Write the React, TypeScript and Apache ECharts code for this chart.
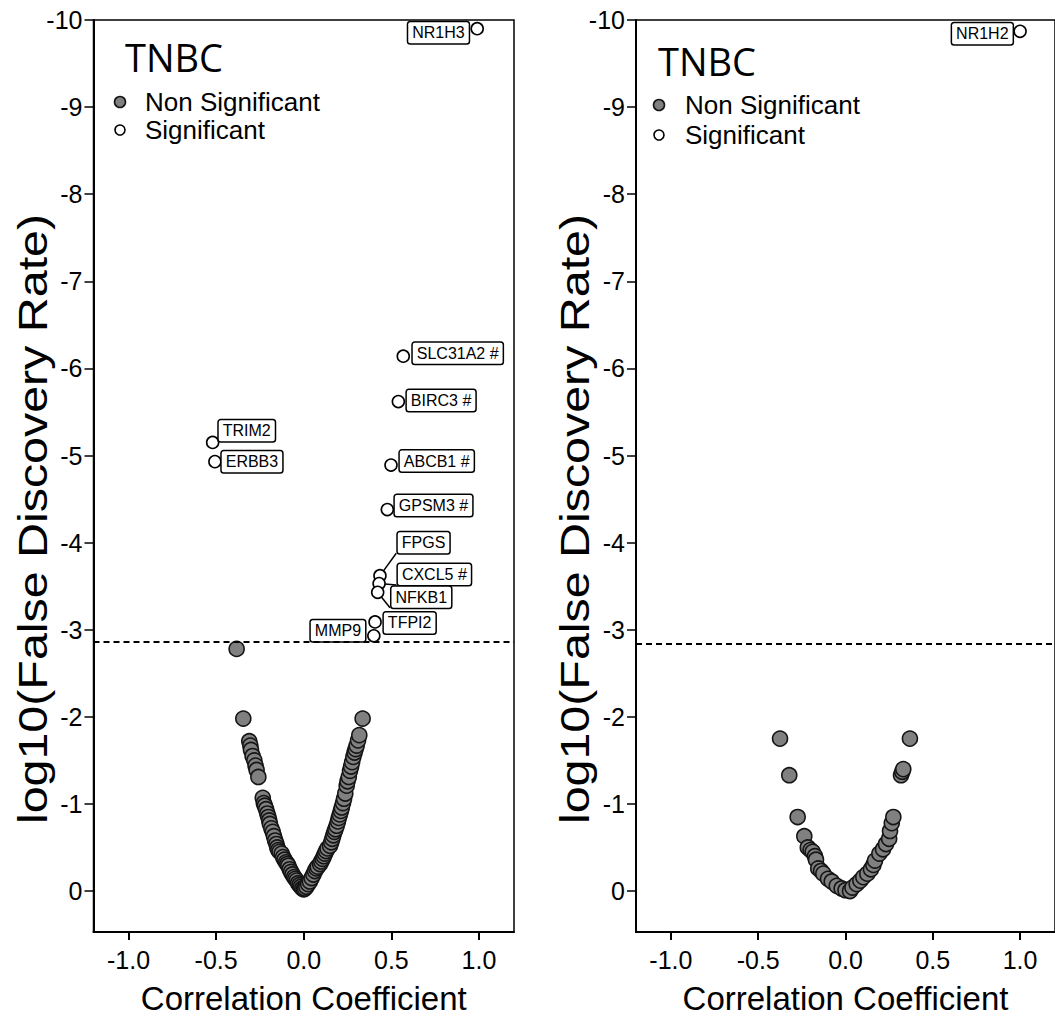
import React, { useEffect, useRef } from "react";
import * as echarts from "echarts";

// ---------------- data ----------------
const xTicks = [-1.0, -0.5, 0.0, 0.5, 1.0];
const yTicks = [-10, -9, -8, -7, -6, -5, -4, -3, -2, -1, 0];

const panelTitle = "TNBC";
const legendNames = ["Non Significant", "Significant"];
const xTitle = "Correlation Coefficient";
const yTitle = "log10(False Discovery Rate)";

const leftThreshold = -2.86;
const rightThreshold = -2.84;

const leftNonSig: [number, number][] = [
  [-0.383, -2.78], [-0.345, -1.98], [-0.311, -1.72], [-0.305, -1.67], [-0.301, -1.62],
  [-0.292, -1.55], [-0.282, -1.5], [-0.275, -1.44], [-0.269, -1.39], [-0.259, -1.31],
  [-0.234, -1.07], [-0.228, -1.01], [-0.222, -0.98], [-0.215, -0.94], [-0.208, -0.89],
  [-0.202, -0.85], [-0.197, -0.81], [-0.193, -0.77], [-0.185, -0.72], [-0.177, -0.68],
  [-0.17, -0.63], [-0.163, -0.58], [-0.156, -0.54], [-0.151, -0.5], [-0.145, -0.47],
  [-0.138, -0.45], [-0.126, -0.43], [-0.118, -0.39], [-0.11, -0.36], [-0.101, -0.33],
  [-0.094, -0.31], [-0.088, -0.29], [-0.08, -0.25], [-0.072, -0.22], [-0.064, -0.19],
  [-0.055, -0.16], [-0.048, -0.14], [-0.04, -0.12], [-0.032, -0.09], [-0.024, -0.07],
  [-0.016, -0.05], [-0.008, -0.03], [0.0, -0.02], [0.007, -0.03], [0.015, -0.05],
  [0.025, -0.08], [0.035, -0.11], [0.045, -0.15], [0.055, -0.19], [0.064, -0.23],
  [0.072, -0.26], [0.08, -0.28], [0.093, -0.31], [0.1, -0.34], [0.108, -0.37],
  [0.115, -0.4], [0.121, -0.43], [0.128, -0.46], [0.136, -0.49], [0.15, -0.52],
  [0.157, -0.56], [0.163, -0.6], [0.169, -0.64], [0.175, -0.68], [0.181, -0.71],
  [0.188, -0.75], [0.195, -0.8], [0.2, -0.84], [0.206, -0.88], [0.212, -0.92],
  [0.217, -0.96], [0.224, -1.01], [0.23, -1.06], [0.237, -1.12], [0.245, -1.21],
  [0.25, -1.26], [0.257, -1.31], [0.264, -1.38], [0.27, -1.43], [0.276, -1.48],
  [0.283, -1.54], [0.29, -1.59], [0.296, -1.63], [0.302, -1.67], [0.31, -1.73],
  [0.317, -1.79], [0.336, -1.98],
];

const leftSigGenes = [
  "NR1H3", "SLC31A2 #", "BIRC3 #", "TRIM2", "ERBB3", "ABCB1 #", "GPSM3 #",
  "FPGS", "CXCL5 #", "NFKB1", "TFPI2", "MMP9",
];
const leftSigX = [0.99, 0.568, 0.54, -0.52, -0.507, 0.498, 0.477, 0.435, 0.43, 0.422, 0.407, 0.4];
const leftSigY = [-9.9, -6.14, -5.62, -5.15, -4.93, -4.89, -4.38, -3.62, -3.53, -3.43, -3.09, -2.93];

const rightNonSig: [number, number][] = [
  [-0.375, -1.75], [-0.322, -1.33], [-0.274, -0.85], [-0.236, -0.63], [-0.216, -0.5],
  [-0.2, -0.47], [-0.188, -0.45], [-0.175, -0.4], [-0.169, -0.36], [-0.156, -0.26],
  [-0.14, -0.23], [-0.127, -0.2], [-0.1, -0.14], [-0.079, -0.11], [-0.05, -0.06],
  [-0.022, -0.03], [0.0, -0.01], [0.026, 0.0], [0.04, -0.04], [0.064, -0.08],
  [0.085, -0.12], [0.102, -0.16], [0.125, -0.2], [0.146, -0.25], [0.16, -0.3],
  [0.169, -0.35], [0.194, -0.43], [0.215, -0.48], [0.232, -0.54], [0.25, -0.6],
  [0.255, -0.69], [0.265, -0.78], [0.274, -0.85], [0.318, -1.33], [0.325, -1.37],
  [0.331, -1.4], [0.369, -1.75],
];

const rightSigGenes = ["NR1H2"];
const rightSigX = [1.0];
const rightSigY = [-9.87];

// ---------------- layout / style ----------------
const FONT = "'Liberation Sans', Arial, Helvetica, sans-serif";
const TITLE_FONT = "'Open Sans', 'Noto Sans', sans-serif";

type Place = { side: "left" | "right"; dx: number; dy: number; line?: boolean };
const labelPlace: Record<string, Place> = {
  "NR1H3": { side: "left", dx: -1.7, dy: 4 },
  "SLC31A2 #": { side: "right", dx: 2.7, dy: -3 },
  "BIRC3 #": { side: "right", dx: 1.7, dy: -1 },
  "TRIM2": { side: "right", dx: -0.7, dy: -11.7 },
  "ERBB3": { side: "right", dx: 0, dy: 0 },
  "ABCB1 #": { side: "right", dx: 2, dy: -4 },
  "GPSM3 #": { side: "right", dx: 0.7, dy: -4 },
  "FPGS": { side: "right", dx: 11, dy: -33, line: true },
  "CXCL5 #": { side: "right", dx: 12, dy: -9, line: true },
  "NFKB1": { side: "right", dx: 7, dy: 5, line: true },
  "TFPI2": { side: "right", dx: 2, dy: 1 },
  "MMP9": { side: "left", dx: -2, dy: -5 },
  "NR1H2": { side: "left", dx: -0.7, dy: 2.5 },
};

const grids = [
  { left: 93.5, top: 20, width: 420.5, height: 912 },
  { left: 636, top: 20, width: 419, height: 912 },
];

function makeXAxis(gridIndex: number) {
  return {
    type: "value",
    gridIndex,
    min: -1.2,
    max: 1.2,
    axisLine: { show: true, onZero: false, lineStyle: { color: "#000", width: 2 } },
    axisTick: { show: true, inside: false, length: 8, customValues: xTicks, lineStyle: { color: "#000", width: 2 } },
    axisLabel: {
      customValues: xTicks,
      formatter: (v: number) => v.toFixed(1),
      fontSize: 25,
      color: "#000",
      fontFamily: FONT,
      margin: 15,
    },
    splitLine: { show: false },
    name: xTitle,
    nameLocation: "middle",
    nameGap: 50,
    nameTextStyle: { fontSize: 33, color: "#000", fontFamily: FONT },
  };
}

function makeYAxis(gridIndex: number) {
  return {
    type: "value",
    gridIndex,
    inverse: true,
    min: -10,
    max: 0.47,
    axisLine: { show: true, onZero: false, lineStyle: { color: "#000", width: 2 } },
    axisTick: { show: true, inside: false, length: 9, customValues: yTicks, lineStyle: { color: "#000", width: 1.5 } },
    axisLabel: {
      customValues: yTicks,
      formatter: (v: number) => String(v),
      fontSize: 25,
      color: "#000",
      fontFamily: FONT,
      margin: 11,
    },
    splitLine: { show: false },
  };
}

function sigData(genes: string[], xs: number[], ys: number[]) {
  return genes.map((g, i) => {
    const p = labelPlace[g];
    const item: any = {
      name: g,
      value: [xs[i], ys[i]],
      label: {
        show: true,
        position: p.side,
        distance: 0,
        offset: [p.dx, p.dy],
        formatter: "{b}",
      },
    };
    if (p.line) {
      item.labelLine = { show: true, lineStyle: { color: "#000", width: 1.5 } };
    }
    return item;
  });
}

const sigLabelStyle = {
  show: true,
  color: "#000",
  fontSize: 16,
  fontFamily: FONT,
  lineHeight: 17,
  backgroundColor: "#fff",
  borderColor: "#000",
  borderWidth: 1.5,
  borderRadius: 2,
  padding: [2, 4, 2, 4],
};

function nonSigSeries(idx: number, data: [number, number][]) {
  return {
    type: "scatter",
    xAxisIndex: idx,
    yAxisIndex: idx,
    data,
    symbolSize: 15,
    itemStyle: { color: "#808080", borderColor: "#151515", borderWidth: 1.6, opacity: 1 },
    z: 2,
    silent: true,
  };
}

function sigSeries(idx: number, genes: string[], xs: number[], ys: number[], thr: number) {
  return {
    type: "scatter",
    xAxisIndex: idx,
    yAxisIndex: idx,
    data: sigData(genes, xs, ys),
    symbolSize: 12,
    itemStyle: { color: "#fff", borderColor: "#000", borderWidth: 1.6, opacity: 1 },
    label: sigLabelStyle,
    z: 3,
    silent: true,
    markLine: {
      silent: true,
      symbol: "none",
      label: { show: false },
      lineStyle: { type: [6, 4], color: "#000", width: 2 },
      data: [{ yAxis: thr }],
    },
  };
}

function legendGraphics(titleX: number, titleY: number, mx: number, ty: number, my1: number, my2: number) {
  return [
    {
      type: "text",
      x: titleX,
      y: titleY,
      style: {
        text: panelTitle,
        fontSize: 38,
        fontFamily: TITLE_FONT,
        fill: "#000",
        align: "left",
        textAlign: "left",
        verticalAlign: "middle",
        textVerticalAlign: "middle",
      },
    },
    {
      type: "circle",
      shape: { cx: mx, cy: my1, r: 5.5 },
      style: { fill: "#808080", stroke: "#151515", lineWidth: 1.6 },
    },
    {
      type: "circle",
      shape: { cx: mx, cy: my2, r: 5 },
      style: { fill: "#fff", stroke: "#000", lineWidth: 1.6 },
    },
    {
      type: "text",
      x: ty,
      y: my1,
      style: {
        text: legendNames[0],
        fontSize: 26,
        fontFamily: FONT,
        fill: "#000",
        align: "left",
        textAlign: "left",
        verticalAlign: "middle",
        textVerticalAlign: "middle",
      },
    },
    {
      type: "text",
      x: ty,
      y: my2,
      style: {
        text: legendNames[1],
        fontSize: 26,
        fontFamily: FONT,
        fill: "#000",
        align: "left",
        textAlign: "left",
        verticalAlign: "middle",
        textVerticalAlign: "middle",
      },
    },
  ];
}

function yTitleGraphic(x: number, y: number) {
  return {
    type: "text",
    x,
    y,
    rotation: Math.PI / 2,
    scaleX: 1.18,
    style: {
      text: yTitle,
      fontSize: 41,
      fontFamily: FONT,
      fill: "#000",
      align: "center",
      textAlign: "center",
      verticalAlign: "middle",
      textVerticalAlign: "middle",
    },
  };
}

export default function App() {
  const ref = useRef<HTMLDivElement>(null);

  useEffect(() => {
    document.body.style.margin = "0";
    document.body.style.overflow = "hidden";
    if (!ref.current) return;
    const chart = echarts.init(ref.current, null, { renderer: "svg" });
    const option: any = {
      animation: false,
      backgroundColor: "#fff",
      grid: grids.map((g) => ({
        ...g,
        show: true,
        borderColor: "#000",
        borderWidth: 1.5,
        backgroundColor: "transparent",
        containLabel: false,
      })),
      xAxis: [makeXAxis(0), makeXAxis(1)],
      yAxis: [makeYAxis(0), makeYAxis(1)],
      series: [
        nonSigSeries(0, leftNonSig),
        sigSeries(0, leftSigGenes, leftSigX, leftSigY, leftThreshold),
        nonSigSeries(1, rightNonSig),
        sigSeries(1, rightSigGenes, rightSigX, rightSigY, rightThreshold),
      ],
      graphic: [
        ...legendGraphics(125, 57, 120, 145, 102, 130),
        ...legendGraphics(658, 61, 659, 685, 105, 135),
        yTitleGraphic(32.5, 519),
        yTitleGraphic(575, 519),
      ],
    };
    chart.setOption(option);
    return () => chart.dispose();
  }, []);

  return <div ref={ref} style={{ width: 1055, height: 1020 }} />;
}
